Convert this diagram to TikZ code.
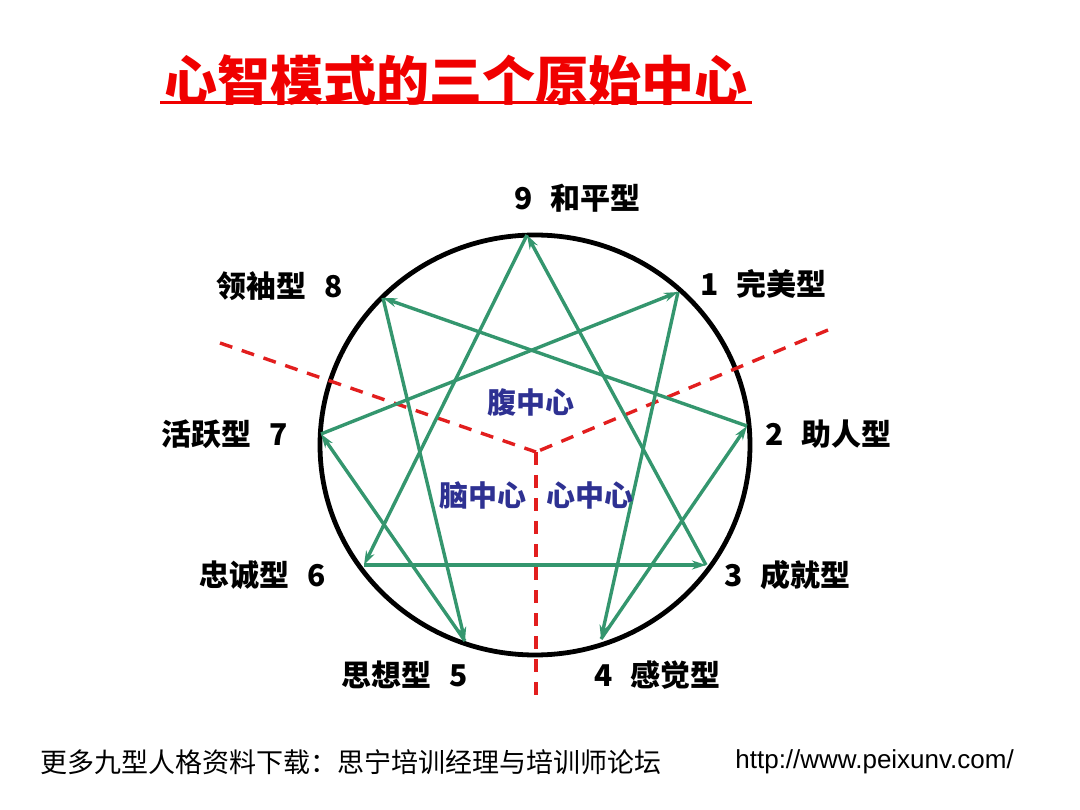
\documentclass[tikz,border=0pt]{standalone}
\usepackage{fontspec}
\setmainfont{Liberation Sans}
\newfontfamily\cjk{Noto Sans CJK SC}
\usetikzlibrary{arrows.meta,shapes.geometric}
\definecolor{egreen}{RGB}{52,150,110}
\definecolor{ered}{RGB}{226,30,30}
\definecolor{eblue}{RGB}{46,49,146}
\definecolor{tred}{RGB}{240,0,0}
\tikzset{
  garrow/.style={egreen,line width=3.4pt,-{Stealth[length=14pt,width=9pt]}},
  rdash/.style={ered,line width=3.4pt,dash pattern=on 13pt off 10pt},
  vlabel/.style={font=\cjk\bfseries\fontsize{30}{32}\selectfont,inner sep=0pt},
  clabel/.style={font=\cjk\bfseries\fontsize{29}{32}\selectfont,text=eblue,inner sep=0pt},
}
\begin{document}
\begin{tikzpicture}[x=1pt,y=-1pt]
\useasboundingbox (0,0) rectangle (1080,810);
% title
\node[font=\cjk\bfseries\fontsize{53}{60}\selectfont,text=tred,inner sep=0pt] (title) at (456,80) {心智模式的三个原始中心};
\draw[tred,line width=3pt] (160,103) -- (752,103);
% circle
\node[draw,ellipse,line width=4.8pt,minimum width=430pt,minimum height=420pt,inner sep=0pt] (circ) at (535,445) {};
% vertices
\coordinate (v9) at (527,235);
\coordinate (v1) at (678,292);
\coordinate (v2) at (747,426);
\coordinate (v3) at (706,565);
\coordinate (v4) at (601,639);
\coordinate (v5) at (465,641);
\coordinate (v6) at (364,565);
\coordinate (v7) at (321,434);
\coordinate (v8) at (383,298);
% red dashed center lines
\coordinate (cen) at (536,452);
\coordinate (dl) at (220,343);
\coordinate (dr) at (828,330);
\coordinate (dd) at (536,698);
\draw[rdash] (dl) -- (cen);
\draw[rdash] (dr) -- (cen);
\draw[rdash] (cen) -- (dd);
% green arrows
\draw[garrow] (v1) -- (v4);
\draw[garrow] (v4) -- (v2);
\draw[garrow] (v2) -- (v8);
\draw[garrow] (v8) -- (v5);
\draw[garrow] (v5) -- (v7);
\draw[garrow] (v7) -- (v1);
\draw[garrow] (v9) -- (v6);
\draw[garrow] (v6) -- (v3);
\draw[garrow] (v3) -- (v9);
% vertex labels
\node[vlabel,anchor=west] (l9) at (514,198) {9\hspace{18pt}和平型};
\node[vlabel,anchor=west] (l1) at (700,284) {1\hspace{18pt}完美型};
\node[vlabel,anchor=east] (l8) at (343,286) {领袖型\hspace{18pt}8};
\node[vlabel,anchor=west] (l2) at (765,434) {2\hspace{18pt}助人型};
\node[vlabel,anchor=east] (l7) at (288,434) {活跃型\hspace{18pt}7};
\node[vlabel,anchor=west] (l3) at (724,575) {3\hspace{18pt}成就型};
\node[vlabel,anchor=east] (l6) at (326,575) {忠诚型\hspace{18pt}6};
\node[vlabel,anchor=east] (l5) at (468,675) {思想型\hspace{18pt}5};
\node[vlabel,anchor=west] (l4) at (594,675) {4\hspace{18pt}感觉型};
% center labels
\node[clabel] (gut) at (531,402) {腹中心};
\node[clabel] (head) at (483,495) {脑中心};
\node[clabel] (heart) at (590,495) {心中心};
% footer
\node[font=\cjk\fontsize{27}{28}\selectfont,anchor=west,inner sep=0pt] (foot) at (40,762) {更多九型人格资料下载：思宁培训经理与培训师论坛};
\node[font=\fontsize{26}{28}\selectfont,anchor=east,inner sep=0pt] (url) at (1014,762) {http://www.peixunv.com/};
\end{tikzpicture}
\end{document}
